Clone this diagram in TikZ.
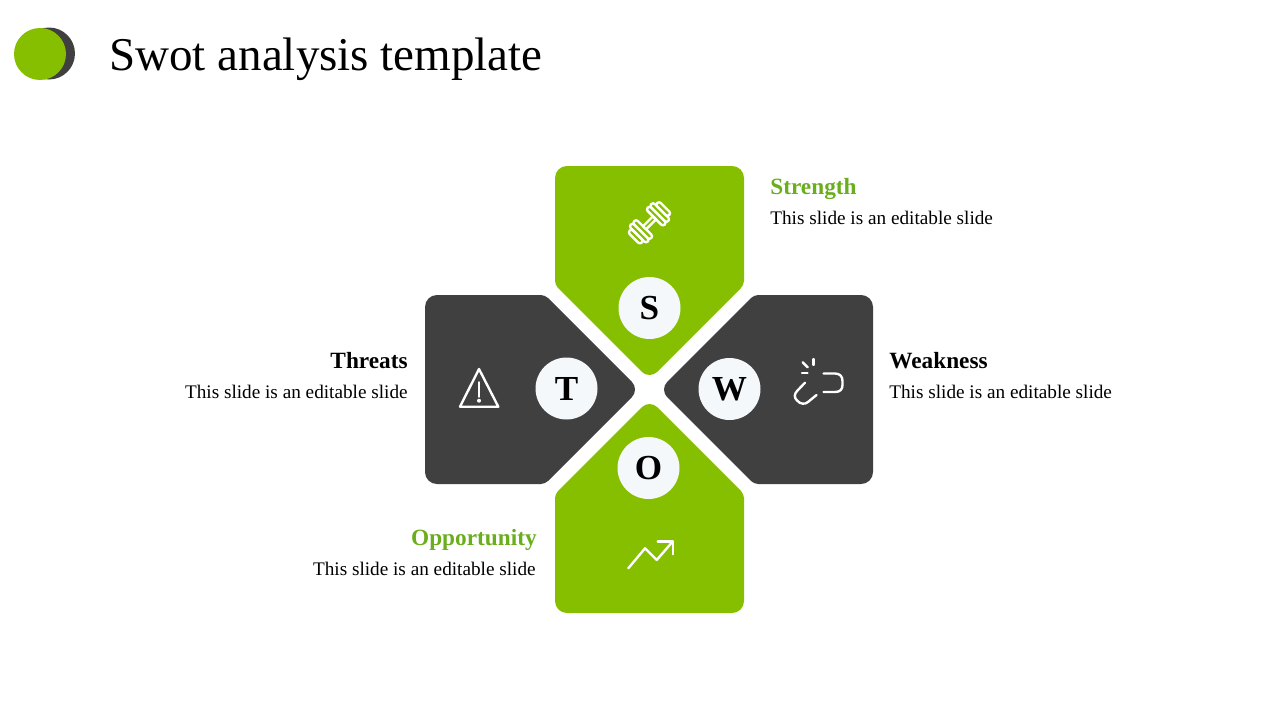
\documentclass[tikz,border=0pt]{standalone}
\usepackage{fontspec}
\setmainfont{Liberation Serif}
\definecolor{swotgreen}{HTML}{86BF00}
\definecolor{swotdark}{HTML}{404040}
\definecolor{headgreen}{HTML}{6AAE1E}
\definecolor{discfill}{HTML}{F4F8FB}
\tikzset{
  disc/.style={circle, fill=discfill, minimum size=1.24cm, inner sep=0pt, font=\fontsize{20}{20}\selectfont\bfseries},
  headlbl/.style={font=\fontsize{13.25}{15}\selectfont\bfseries},
  bodylbl/.style={font=\fontsize{10.94}{13}\selectfont},
  icon/.style={draw=white, line width=1.35pt, line cap=round, line join=round},
}
\begin{document}
\begin{tikzpicture}[x=0.02cm, y=-0.02cm]
\useasboundingbox (0,0) rectangle (1280,720);

% logo
\fill[swotdark] (49,53.5) circle (26);
\fill[swotgreen] (40,54) circle (26);
\node[anchor=base west, inner sep=0pt, font=\fontsize{26.75}{30}\selectfont] (title) at (109,70) {Swot analysis template};

% top
\fill[swotgreen, rounded corners=6.8pt] (555,285) -- (555,166) -- (744,166) [rounded corners=2.4pt] -- (744,285) [rounded corners=6.2pt] -- (649.5,379.5) [rounded corners=2.4pt] -- cycle;
% bottom
\fill[swotgreen, rounded corners=6.8pt] (555,494) -- (555,613) -- (744,613) [rounded corners=2.4pt] -- (744,494) [rounded corners=6.2pt] -- (649.5,399.5) [rounded corners=2.4pt] -- cycle;
% left
\fill[swotdark, rounded corners=6.8pt] (545,484) -- (425,484) -- (425,295) [rounded corners=2.4pt] -- (545,295) [rounded corners=6.2pt] -- (639.5,389.5) [rounded corners=2.4pt] -- cycle;
% right
\fill[swotdark, rounded corners=6.8pt] (754,484) -- (873,484) -- (873,295) [rounded corners=2.4pt] -- (754,295) [rounded corners=6.2pt] -- (659.5,389.5) [rounded corners=2.4pt] -- cycle;

\node[disc] (dS) at (649.5,308) {S};
\node[disc] (dT) at (566.5,388.5) {T};
\node[disc] (dW) at (729.5,389) {W};
\node[disc] (dO) at (648.5,468) {O};

% dumbbell
\begin{scope}[shift={(649.5,222.8)}, rotate=45]
\draw[icon] (-7,-2.2) rectangle (7,2.2);
\draw[icon, rounded corners=1.4pt] (7,-12) rectangle (12,12);
\draw[icon, rounded corners=1.4pt] (12,-12) rectangle (17,12);
\draw[icon, rounded corners=1.4pt] (17,-8.5) rectangle (22,8.5);
\draw[icon, rounded corners=1.4pt] (-7,-12) rectangle (-12,12);
\draw[icon, rounded corners=1.4pt] (-12,-12) rectangle (-17,12);
\draw[icon, rounded corners=1.4pt] (-17,-8.5) rectangle (-22,8.5);
\end{scope}

% broken link
\draw[icon] (823.5,373.5) -- (835,373.5) .. controls (840,373.5) and (842.5,376.5) .. (842.5,381) -- (842.5,385) .. controls (842.5,389.5) and (840,392) .. (835,392) -- (823.5,392);
\draw[icon] (805,382.7) -- (797.5,390.5) .. controls (794,394) and (794,397.5) .. (797,400.5) .. controls (800.5,404.5) and (805,404.5) .. (808,402) -- (816.5,395);
\draw[icon] (802,373) -- (807.5,373);
\draw[icon] (802.7,362.3) -- (807.7,367.3);
\draw[icon] (813.3,359) -- (813.3,365);

% warning
\draw[icon] (479,369) -- (498.3,406.7) -- (460,406.7) -- cycle;
\draw[icon] (479,382.3) -- (479,396.7);
\fill[white] (479,400.7) circle (2);

% trend
\draw[icon] (628.3,568.3) -- (645,548.3) -- (656.7,560) -- (672.7,541.5);
\draw[icon] (657.7,541.5) -- (672.7,541.5) -- (672.7,554.3);

\node[headlbl, headgreen, anchor=base west, inner sep=0pt] (hS) at (770,194) {Strength};
\node[bodylbl, anchor=base west, inner sep=0pt] (bS) at (770,224.5) {This slide is an editable slide};
\node[headlbl, anchor=base west, inner sep=0pt] (hW) at (889,368) {Weakness};
\node[bodylbl, anchor=base west, inner sep=0pt] (bW) at (889,398.5) {This slide is an editable slide};
\node[headlbl, anchor=base east, inner sep=0pt] (hT) at (408,368) {Threats};
\node[bodylbl, anchor=base east, inner sep=0pt] (bT) at (408,398.5) {This slide is an editable slide};
\node[headlbl, headgreen, anchor=base east, inner sep=0pt] (hO) at (537,545) {Opportunity};
\node[bodylbl, anchor=base east, inner sep=0pt] (bO) at (536,575) {This slide is an editable slide};
\end{tikzpicture}
\end{document}
